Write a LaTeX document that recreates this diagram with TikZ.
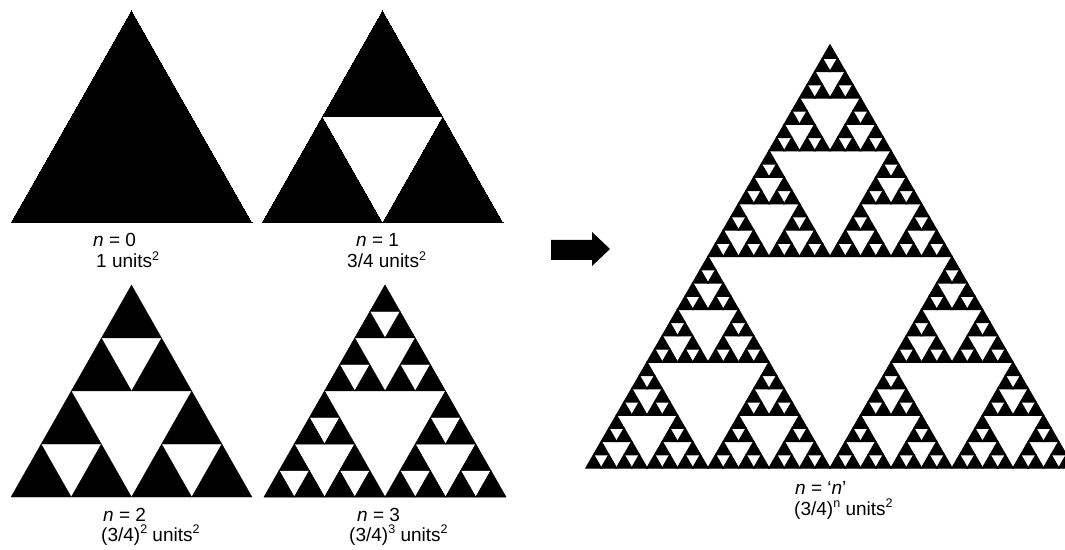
\documentclass[tikz,border=0pt]{standalone}
\usepackage{fontspec}
\setmainfont{Liberation Sans}
\newcommand\supr[1]{\raisebox{0.42em}{\fontsize{12.5}{12.5}\selectfont #1}}
\def\leafw{0pt}
% #1 depth, #2 x, #3 y (base left), #4 width, #5 height
\newcommand\sierp[5]{%
  \ifnum#1=0\relax
    \fill[draw=black,line width=\leafw] (#2,#3) -- ++(#4,0) -- ++(-#4/2,#5) -- cycle;
  \else
    \begingroup
      \pgfmathsetmacro\sw{#4/2}\pgfmathsetmacro\sh{#5/2}%
      \pgfmathsetmacro\sxa{#2+#4/2}\pgfmathsetmacro\sxb{#2+#4/4}%
      \pgfmathsetmacro\syb{#3+#5/2}\pgfmathtruncatemacro\sd{#1-1}%
      \edef\scalls{\noexpand\sierp{\sd}{#2}{#3}{\sw}{\sh}\noexpand\sierp{\sd}{\sxa}{#3}{\sw}{\sh}\noexpand\sierp{\sd}{\sxb}{\syb}{\sw}{\sh}}%
      \scalls
    \endgroup
  \fi}
\tikzset{lbl/.style={anchor=base west,inner sep=0pt,font=\fontsize{19}{22}\selectfont}}
\begin{document}
\begin{tikzpicture}[x=1pt,y=1pt]
\useasboundingbox (0,0) rectangle (1065,549);
\clip (0,0) rectangle (1065,549);
% n = 0 .. 3
\def\leafw{0pt}
\sierp{0}{11}{326}{241}{212}
\sierp{1}{262}{326}{241}{212}
\def\leafw{0.2pt}
\sierp{2}{11}{52}{241}{212}
\def\leafw{0.5pt}
\sierp{3}{264}{52}{242}{212}
% limit
\def\leafw{1.3pt}
\sierp{5}{586}{81}{488}{423}
% arrow
\fill (551,309) -- (592,309) -- (592,317) -- (610,300) -- (592,283) -- (592,289) -- (551,289) -- cycle;
% labels
\node[lbl] (l0a) at (93,302) {\textit{n} = 0};
\node[lbl] (l0b) at (96,281) {1 units\supr{2}};
\node[lbl] (l1a) at (356,302) {\textit{n} = 1};
\node[lbl] (l1b) at (347,281) {3/4 units\supr{2}};
\node[lbl] (l2a) at (103,28) {\textit{n} = 2};
\node[lbl] (l2b) at (101,8) {(3/4)\supr{2} units\supr{2}};
\node[lbl] (l3a) at (357,28) {\textit{n} = 3};
\node[lbl] (l3b) at (349,8) {(3/4)\supr{3} units\supr{2}};
\node[lbl] (lna) at (795,55) {\textit{n} = ‘\textit{n}’};
\node[lbl] (lnb) at (794,34) {(3/4)\supr{n} units\supr{2}};
\end{tikzpicture}
\end{document}
